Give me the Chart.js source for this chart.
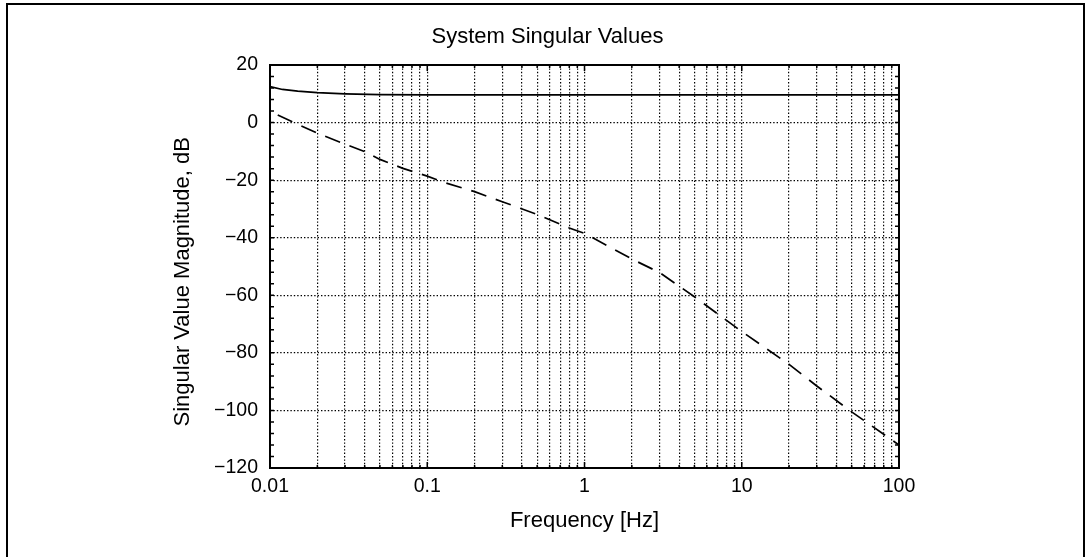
<!DOCTYPE html>
<html>
<head>
<meta charset="utf-8">
<script src="https://cdn.jsdelivr.net/npm/chart.js@4.4.1/dist/chart.umd.min.js"></script>
<style>
  html, body { margin: 0; padding: 0; background: #fff; overflow: hidden; }
  #wrap { position: relative; width: 1085px; height: 557px; }
  #frame {
    position: absolute; left: 6px; top: 3px; width: 1079px; height: 600px;
    box-sizing: border-box; border: 2px solid #000; border-bottom: none;
    pointer-events: none;
  }
</style>
</head>
<body>
<div id="wrap">
  <canvas id="chart" width="1085" height="557"></canvas>
  <div id="frame"></div>
</div>
<script>
// upper singular value (solid)
const freqMax = [0.01, 0.012, 0.015, 0.02, 0.03, 0.05, 0.1, 1, 10, 100];
const sigmaMax = [12.5, 11.5, 10.9, 10.4, 10.0, 9.7, 9.6, 9.6, 9.6, 9.6];

// lower singular value (dashed)
const freqMin = [0.0112, 0.02, 0.03, 0.04, 0.05, 0.07, 0.1, 0.13, 0.2, 0.3, 0.5, 0.8,
                 1, 2, 3, 5, 10, 20, 30, 50, 100];
const sigmaMin = [2.6, -3.7, -7.5, -10.1, -12.8, -15.9, -18.6, -20.9, -24, -27.5, -31.9, -36.6,
                  -38.5, -47.4, -52.1, -60.5, -72.6, -84, -91.5, -100.5, -112];

const xDecades = [0.01, 0.1, 1, 10, 100];
const xTickLabels = ["0.01", "0.1", "1", "10", "100"];
const yTicks = [-120, -100, -80, -60, -40, -20, 0, 20];
const yTickLabels = ["\u2212120", "\u2212100", "\u221280", "\u221260", "\u221240", "\u221220", "0", "20"];
const yMinorStep = 4;

// grid positions 1..9 per decade
const xGrid = [];
xDecades.forEach((d, i) => {
  if (i === xDecades.length - 1) { xGrid.push(d); return; }
  for (let m = 1; m <= 9; m++) xGrid.push(Math.round(m * d * 1e6) / 1e6);
});

const font = "'Liberation Sans', Arial, sans-serif";

const boxTicks = {
  id: "boxTicks",
  afterDraw(chart) {
    const { ctx, chartArea: a, scales: { x, y } } = chart;
    ctx.save();
    ctx.strokeStyle = "#000";
    ctx.lineWidth = 1.5;
    ctx.beginPath();
    xGrid.forEach((v) => {
      const px = x.getPixelForValue(v);
      const len = xDecades.includes(v) ? 6 : 3;
      ctx.moveTo(px, a.bottom); ctx.lineTo(px, a.bottom - len);
      ctx.moveTo(px, a.top); ctx.lineTo(px, a.top + len);
    });
    for (let v = yTicks[0]; v <= yTicks[yTicks.length - 1]; v += yMinorStep) {
      const py = y.getPixelForValue(v);
      ctx.moveTo(a.left, py); ctx.lineTo(a.left + 4, py);
      ctx.moveTo(a.right, py); ctx.lineTo(a.right - 4, py);
    }
    ctx.stroke();
    ctx.lineWidth = 2;
    ctx.strokeRect(a.left, a.top, a.right - a.left, a.bottom - a.top);
    ctx.restore();
  }
};

const gridOpts = { color: "#000", lineWidth: 1.2, drawTicks: false, borderDash: [1.4, 2] };
const borderOpts = { display: false, dash: [1.4, 2] };

new Chart(document.getElementById("chart"), {
  type: "line",
  data: {
    datasets: [
      {
        label: "sigma max",
        data: freqMax.map((f, i) => ({ x: f, y: sigmaMax[i] })),
        borderColor: "#000",
        borderWidth: 1.7,
        pointRadius: 0,
        tension: 0
      },
      {
        label: "sigma min",
        data: freqMin.map((f, i) => ({ x: f, y: sigmaMin[i] })),
        borderColor: "#000",
        borderWidth: 1.7,
        borderDash: [16, 10],
        pointRadius: 0,
        tension: 0
      }
    ]
  },
  options: {
    responsive: false,
    animation: false,
    layout: { padding: { left: 170, right: 160, top: 0, bottom: 0 } },
    plugins: {
      legend: { display: false },
      tooltip: { enabled: false },
      title: {
        display: true,
        text: "System Singular Values",
        color: "#000",
        font: { family: font, size: 22, weight: "normal" },
        padding: { top: 23.8, bottom: 14.8 }
      }
    },
    scales: {
      x: {
        type: "logarithmic",
        min: 0.01,
        max: 100,
        afterBuildTicks: (s) => { s.ticks = xGrid.map((v) => ({ value: v })); },
        afterFit: (s) => { s.height = 89; },
        grid: gridOpts,
        border: borderOpts,
        ticks: {
          autoSkip: false,
          maxRotation: 0,
          padding: 6.8,
          color: "#000",
          font: { family: font, size: 19.5 },
          callback: (v) => {
            const i = xDecades.indexOf(v);
            return i >= 0 ? xTickLabels[i] : "";
          }
        },
        title: {
          display: true,
          text: "Frequency [Hz]",
          color: "#000",
          font: { family: font, size: 22 },
          padding: { top: 0, bottom: 22.8 }
        }
      },
      y: {
        min: -120,
        max: 20,
        afterBuildTicks: (s) => { s.ticks = yTicks.map((v) => ({ value: v })); },
        afterFit: (s) => { s.width = 100; },
        grid: gridOpts,
        border: borderOpts,
        ticks: {
          padding: 12,
          color: "#000",
          font: { family: font, size: 19.5 },
          callback: (v) => {
            const i = yTicks.indexOf(v);
            return i >= 0 ? yTickLabels[i] : "";
          }
        },
        title: {
          display: true,
          // trailing spaces push the centred label a little below the plot centre, as in the original
          text: "Singular Value Magnitude, dB     ",
          color: "#000",
          font: { family: font, size: 22 },
          padding: { top: 0, bottom: 0 }
        }
      },
      y2: {
        position: "right",
        min: -120,
        max: 20,
        afterFit: (s) => { s.width = 26; },
        grid: { display: false, drawTicks: false },
        border: { display: false },
        ticks: { display: false }
      }
    }
  },
  plugins: [boxTicks]
});
</script>
</body>
</html>
